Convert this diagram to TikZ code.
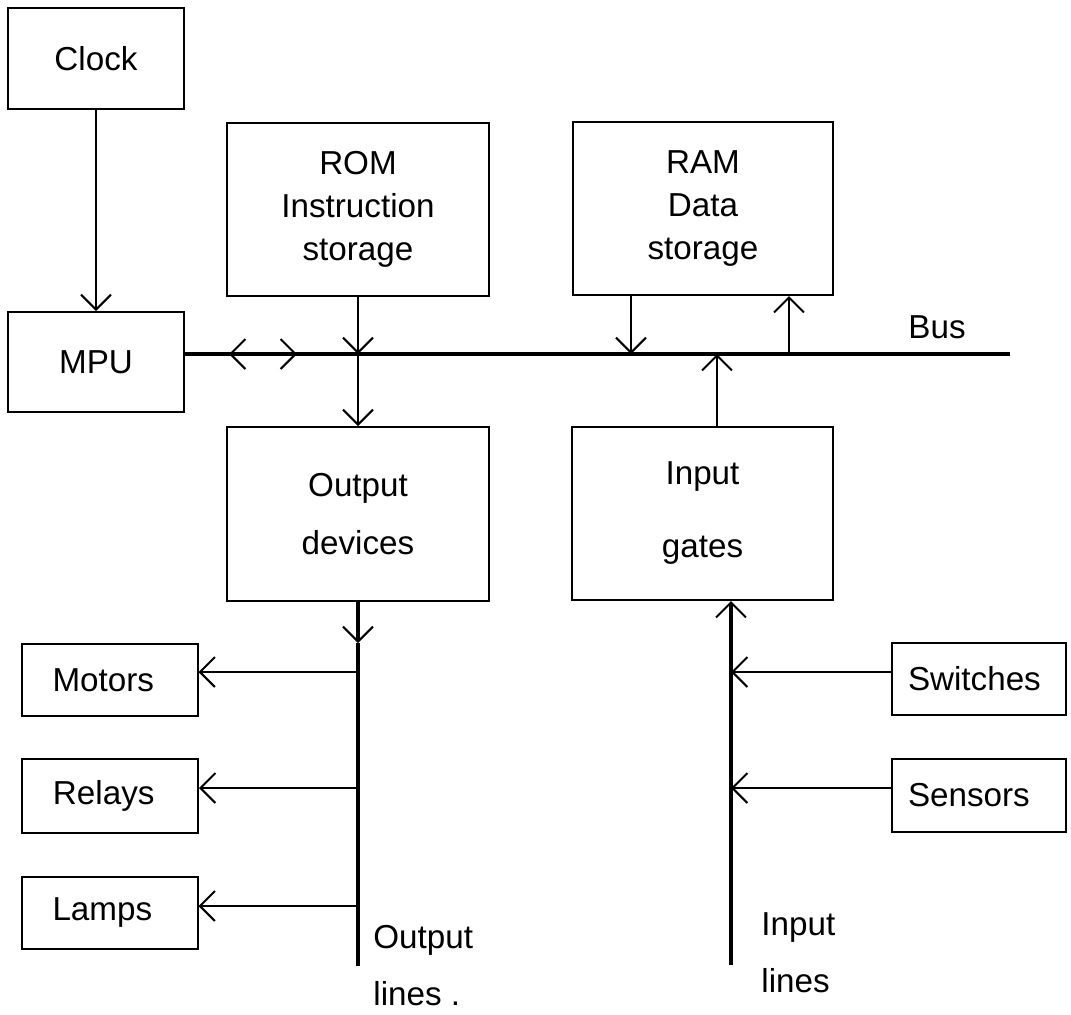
\documentclass[tikz,border=0pt]{standalone}
\usepackage{fontspec}
\setmainfont{Liberation Sans}
\usetikzlibrary{arrows.meta}
\begin{document}
\begin{tikzpicture}[x=0.5pt,y=-0.5pt,
  vhead/.tip={Straight Barb[length=7.5pt,width=15pt,line width=1pt]},
  box/.style={draw, line width=1pt, rectangle, inner sep=0pt, align=center,
    font=\fontsize{16.6}{21.5}\selectfont},
  lbox/.style={box, align=left, text width=57pt, inner xsep=15.5pt},
  rbox/.style={box, align=left, text width=71pt, inner xsep=8pt},
  arr/.style={line width=1pt, -vhead},
  busline/.style={line width=2.3pt},
  fatline/.style={line width=2pt},
  lbl/.style={anchor=base west, inner sep=0pt, font=\fontsize{16.6}{20}\selectfont}]
\useasboundingbox (0,0) rectangle (1071,1014);

% boxes
\node[box, minimum width=88pt, minimum height=50.5pt] (clock) at (96,58.5) {Clock};
\node[box, minimum width=88pt, minimum height=50pt] (mpu) at (96,362) {MPU};
\node[box, minimum width=131pt, minimum height=86.5pt] (rom) at (358,209.5) {ROM\\Instruction\\storage};
\node[box, minimum width=130pt, minimum height=86.5pt] (ram) at (703,208.5) {RAM\\Data\\storage};
\node[box, minimum width=131pt, minimum height=87pt] (out) at (358,514) {Output\\[7.5pt]devices};
\node[box, minimum width=130.5pt, minimum height=86.5pt] (in) at (702.5,513.5) {Input\\[15pt]gates};
\node[lbox, minimum height=36pt] (motors) at (109.5,680) {Motors};
\node[lbox, minimum height=37pt] (relays) at (110,796) {Relays};
\node[lbox, minimum height=36pt] (lamps) at (109.5,913) {Lamps};
\node[rbox, minimum height=36pt] (switches) at (979,679) {Switches};
\node[rbox, minimum height=36.5pt] (sensors) at (979,795.5) {Sensors};

% bus
\coordinate (bR) at (358,354);
\coordinate (bA) at (631,354);
\coordinate (bC) at (717,354);
\coordinate (bB) at (789,354);
\coordinate (busend) at (1010,354);
\coordinate (chev) at (262,354);
\coordinate (chevL) at (229,354);
\coordinate (chevR) at (297,354);
\draw[busline] (mpu.east |- bR) -- (busend);
\draw[arr] (chev) -- (chevL);
\draw[arr] (chev) -- (chevR);
\node[lbl] (buslbl) at (908,338) {Bus};

% clock to MPU
\draw[arr] (clock.south) -- (mpu.north);
% ROM / output devices
\draw[arr] (rom.south) -- (bR);
\draw[arr] (bR) -- (out.north);
% RAM
\draw[arr] (ram.south -| bA) -- (bA);
\draw[arr] (bB) -- (ram.south -| bB);
% input gates
\draw[arr] (in.north -| bC) -- (bC);

% output lines
\coordinate (oArr) at (358,643);
\coordinate (oM) at (358,672);
\coordinate (oR) at (358,788);
\coordinate (oL) at (358,906);
\coordinate (oEnd) at (358,966);
\draw[fatline, -vhead] (out.south) -- (oArr);
\draw[fatline] (oArr) -- (oEnd);
\draw[arr] (oM) -- (motors.east |- oM);
\draw[arr] (oR) -- (relays.east |- oR);
\draw[arr] (oL) -- (lamps.east |- oL);
\node[lbl] (outl1) at (373,948) {Output};
\node[lbl] (outl2) at (373,1005) {lines .};

% input lines
\coordinate (iEnd) at (731,965);
\coordinate (iS) at (731,672);
\coordinate (iN) at (731,788);
\draw[fatline, -vhead] (iEnd) -- (in.south -| iEnd);
\draw[arr] (switches.west |- iS) -- (iS);
\draw[arr] (sensors.west |- iN) -- (iN);
\node[lbl] (inl1) at (761,935) {Input};
\node[lbl] (inl2) at (761,992) {lines};
\end{tikzpicture}
\end{document}
